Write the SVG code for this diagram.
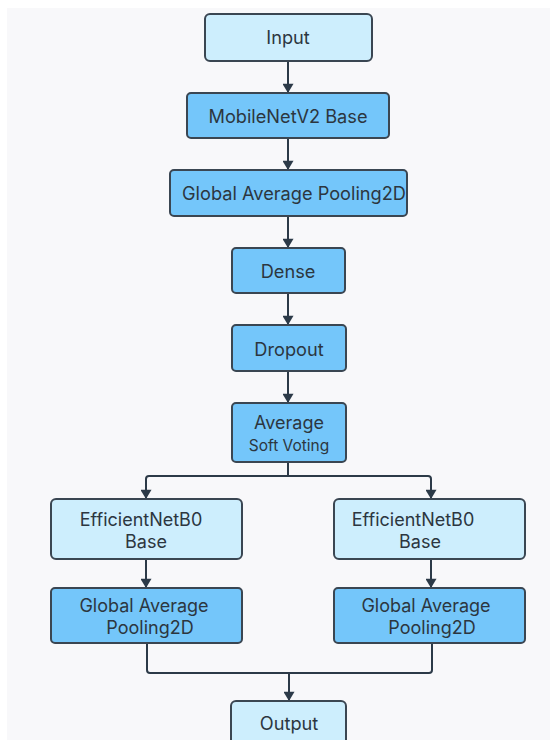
<svg xmlns="http://www.w3.org/2000/svg" width="550" height="740" viewBox="0 0 550 740">
<defs>
<style>
.light{fill:#cdeefd;stroke:#3a4652;stroke-width:2}
.dark{fill:#74c6fa;stroke:#3a4652;stroke-width:2}
.t{font-family:Inter,"Noto Sans",sans-serif;font-size:18.2px;fill:#2c3640;text-anchor:middle;dominant-baseline:central}
.m{font-size:18px}
.s{font-size:15.5px}
.c{fill:none;stroke:#2c3a48;stroke-width:2}
</style>
<marker id="ad" markerUnits="userSpaceOnUse" markerWidth="12" markerHeight="11" refX="10" refY="6" orient="auto" viewBox="0 0 11 12">
<path d="M0,0 L10,6 L0,12 Z" fill="#2c3a48"/>
</marker>
</defs>
<rect width="550" height="740" fill="#ffffff"/>
<rect x="7" y="8" width="543" height="732" fill="#f8f8fa"/>
<g id="connectors">
<path class="c" d="M288,61 V93" marker-end="url(#ad)"/>
<path class="c" d="M288,138 V170" marker-end="url(#ad)"/>
<path class="c" d="M288,216 V248" marker-end="url(#ad)"/>
<path class="c" d="M288,293 V325" marker-end="url(#ad)"/>
<path class="c" d="M288,371 V403" marker-end="url(#ad)"/>
<path class="c" d="M288,462 V476"/>
<path class="c" d="M146,485 V479 Q146,476 149,476 H428 Q431,476 431,479 V485"/>
<path class="c" d="M146,484 V499" marker-end="url(#ad)"/>
<path class="c" d="M431,484 V499" marker-end="url(#ad)"/>
<path class="c" d="M146,559 V588" marker-end="url(#ad)"/>
<path class="c" d="M431,559 V588" marker-end="url(#ad)"/>
<path class="c" d="M147,643 V670 Q147,673 150,673 H429 Q432,673 432,670 V643"/>
<path class="c" d="M289,673 V701" marker-end="url(#ad)"/>
</g>
<g id="input"><rect class="light" x="205" y="14" width="167" height="47" rx="5"/><text class="t" x="288" y="37">Input</text></g>
<g id="mobilenet"><rect class="dark" x="187" y="93" width="202" height="45" rx="4"/><text class="t" x="288" y="116">MobileNetV2 Base</text></g>
<g id="gap1"><rect class="dark" x="170" y="170" width="237" height="46" rx="4"/><text class="t" x="294" y="193">Global Average Pooling2D</text></g>
<g id="dense"><rect class="dark" x="232" y="248" width="113" height="45" rx="4"/><text class="t" x="288" y="271">Dense</text></g>
<g id="dropout"><rect class="dark" x="232" y="325" width="114" height="46" rx="4"/><text class="t" x="289" y="349">Dropout</text></g>
<g id="average"><rect class="dark" x="232" y="403" width="114" height="59" rx="4"/><text class="t m" x="289" y="422">Average</text><text class="t s" x="289" y="445">Soft Voting</text></g>
<g id="effnet-left"><rect class="light" x="51" y="499" width="191" height="60" rx="5"/><text class="t m" x="141" y="519">EfficientNetB0</text><text class="t m" x="146" y="541">Base</text></g>
<g id="effnet-right"><rect class="light" x="334" y="499" width="191" height="60" rx="5"/><text class="t m" x="413" y="519">EfficientNetB0</text><text class="t m" x="420" y="541">Base</text></g>
<g id="gap-left"><rect class="dark" x="51" y="588" width="191" height="55" rx="4"/><text class="t m" x="144" y="605">Global Average</text><text class="t m" x="150" y="627">Pooling2D</text></g>
<g id="gap-right"><rect class="dark" x="334" y="588" width="191" height="55" rx="4"/><text class="t m" x="426" y="605">Global Average</text><text class="t m" x="432" y="627">Pooling2D</text></g>
<g id="output"><rect class="light" x="231" y="701" width="115" height="50" rx="5"/><text class="t" x="289" y="723">Output</text></g>
</svg>
